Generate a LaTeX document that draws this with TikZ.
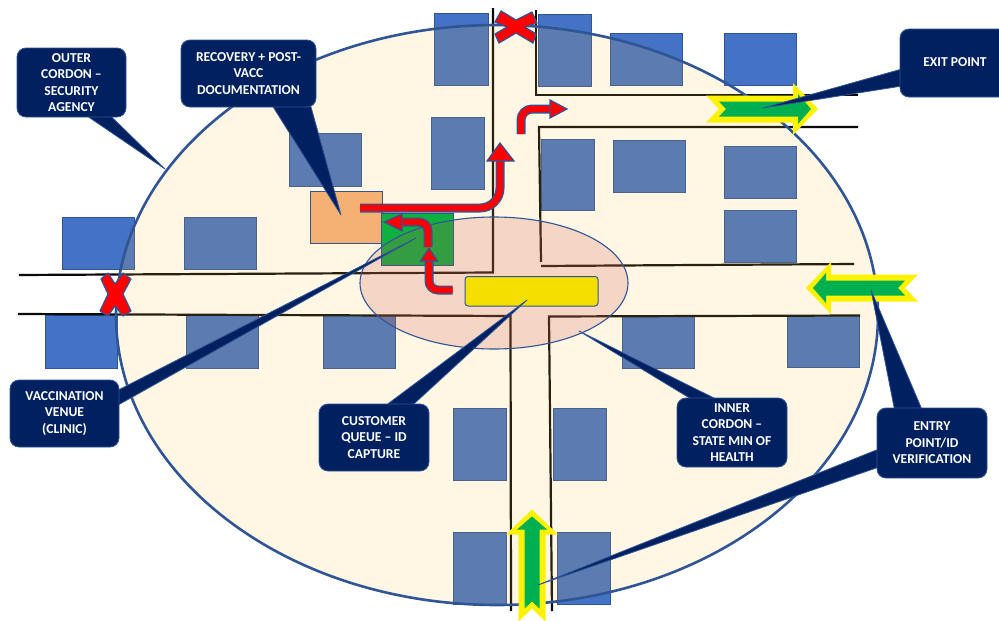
\documentclass[tikz,border=0pt]{standalone}
\usepackage{fontspec}
\setmainfont{Carlito}
\usetikzlibrary{calc}
\definecolor{navy}{HTML}{002060}
\definecolor{edgeb}{HTML}{2F5597}
\definecolor{blk}{HTML}{4472C4}
\definecolor{road}{HTML}{0A0A0A}
\definecolor{orangebox}{HTML}{F4B173}
\definecolor{greenbox}{HTML}{10B040}
\definecolor{outerfill}{HTML}{FFC132}
\definecolor{innerfill}{HTML}{CD5546}
\definecolor{queuebar}{HTML}{F5DF00}
\definecolor{arrowgreen}{HTML}{00B050}
\tikzset{
  blockbox/.style={fill=blk,draw=edgeb,line width=.6pt},
  roadline/.style={draw=road,line width=2.2pt,line join=miter},
  callout/.style={fill=navy,draw=edgeb,line width=.8pt,rounded corners=9pt,inner sep=0pt,outer sep=0pt,
    text=white,align=center,font=\bfseries\fontsize{13.6}{16.5}\selectfont},
  tailshape/.style={fill=navy,draw=edgeb,line width=.8pt,line join=round},
  redout/.style={draw=edgeb,line width=9pt,rounded corners=#1},
  redin/.style={draw=red,line width=6.4pt,rounded corners=#1},
  redhead/.style={fill=red,draw=edgeb,line width=1.2pt,line join=miter},
  redcross/.style={fill=red,draw=edgeb,line width=1.2pt,line join=round},
}
\newcommand{\bigarrow}[3]{%
  \begin{scope}[shift={(#1,#2)},rotate=#3]
    \fill[yellow] (-56,-13.5)--(31,-13.5)--(31,-26)--(56,0)--(31,26)--(31,13.5)--(-56,13.5)--(-43,0)--cycle;
    \fill[arrowgreen] (-43,-7.5)--(36,-7.5)--(36,-15)--(49,0)--(36,15)--(36,7.5)--(-43,7.5)--(-36,0)--cycle;
  \end{scope}}
\newcommand{\bentarrow}[2]{\draw[redout=#1] #2; \draw[redin=#1] #2;}
\begin{document}
\begin{tikzpicture}[x=1pt,y=-1pt]
\useasboundingbox (0,0) rectangle (999,621);
\clip (0,0) rectangle (999,621);
\fill[white] (0,0) rectangle (999,621);
% blocks
\foreach \a/\b/\c/\d in {434/13/488/85,538/14/591/86,610/33/682/85,724/33/796/85,431/117/484/189,541/139/594/210,613/140/685/192,724/146/796/198,724/210/796/262,289/133/361/186,62/217/134/269,184/217/256/269,45/315/117/368,186/315/258/368,323/315/395/368,622/315/694/368,787/315/859/367,453/408/506/480,553/408/606/480,453/532/506/604,557/532/610/604}
  \draw[blockbox] (\a,\b) rectangle (\c,\d);
% roads
\draw[roadline] (19,275)--(493,272.5)--(493,8);
\draw[roadline] (18,314)--(510.5,316)--(511,611);
\draw[roadline] (860,315.5)--(549,316.5)--(552,611);
\draw[roadline] (541,266)--(854,264);
\draw[roadline] (541,262)--(539,127)--(858,127);
\draw[roadline] (536,10)--(536,95)--(858,95);
% outer cordon
\fill[outerfill,fill opacity=.13] (497,315) ellipse [x radius=381,y radius=290];
\draw[edgeb,line width=2.6pt] (497,315) ellipse [x radius=381,y radius=290];
% venue boxes
\draw[fill=orangebox,draw=edgeb,line width=.5pt] (310,191) rectangle (382,243);
\draw[fill=greenbox,draw=edgeb,line width=.5pt] (381,213) rectangle (453,265);
% inner cordon
\fill[innerfill,fill opacity=.2] (494,283) ellipse [x radius=134,y radius=66];
\draw[edgeb,line width=1.1pt] (494,283) ellipse [x radius=134,y radius=66];
% queue bar
\draw[fill=queuebar,draw=edgeb,line width=1pt,rounded corners=3pt] (465,276.5) rectangle (598,306);
% red arrows
\bentarrow{20pt}{(360,208)--(500,208)--(500,160)}
\draw[redhead] (500,143)--(514,161)--(487,161)--cycle;
\bentarrow{9pt}{(428,247)--(428,222)--(401,222)}
\draw[redhead] (384,222)--(402,214)--(402,231)--cycle;
\bentarrow{9pt}{(452.5,290)--(429,290)--(429,260)}
\draw[redhead] (429,248)--(437.5,261)--(420.5,261)--cycle;
\bentarrow{11pt}{(521,134)--(521,109)--(551,109)}
\draw[redhead] (567,109)--(550,100)--(550,118)--cycle;
% crosses
\draw[redcross] (516,26) ++(-15,-15)--++(15,9)--++(16,-8)--++(5,11)--++(-12,4)--++(11,7)--++(-3,9)--++(-17,-10)--++(-17,10)--++(-4,-9)--++(12,-7)--++(-12,-5)--cycle;
\draw[redcross] (115,294) ++(-14,-15)--++(7,-6)--++(7,11)--++(8,-11)--++(8,6)--++(-8,15)--++(8,17)--++(-8,5)--++(-8,-10)--++(-7,10)--++(-8,-5)--++(8,-17)--cycle;
% green arrows
\bigarrow{762}{109}{0}
\bigarrow{862}{288}{180}
\bigarrow{532}{565.5}{90}
% callouts
\coordinate (tipouter) at (165,169);
\coordinate (tiprecov) at (341,215);
\coordinate (tipexit) at (763,108);
\coordinate (tipvacc) at (416,238);
\coordinate (tipqueue) at (527,300);
\coordinate (tipinner) at (579,331);
\coordinate (tipentrya) at (871,290);
\coordinate (tipentryb) at (538,585);
\coordinate (outer) at (71.5,82.5);
\coordinate (recov) at (248.5,73.5);
\coordinate (exitp) at (965,63);
\coordinate (vacc) at (64.5,413.5);
\coordinate (queue) at (374,437.5);
\coordinate (inner) at (732,432.5);
\coordinate (entry) at (932,443);
\draw[tailshape] ($(outer)+(10.5,30)$)--(tipouter)--($(outer)+(35.5,30)$)--cycle;
\draw[tailshape] ($(recov)+(22.5,30)$)--(tiprecov)--($(recov)+(61.5,30)$)--cycle;
\draw[tailshape] ($(exitp)+(-63,6)$)--(tipexit)--($(exitp)+(-63,23)$)--cycle;
\draw[tailshape] ($(vacc)+(50,-21.5)$)--(tipvacc)--($(vacc)+(50,-6.5)$)--cycle;
\draw[tailshape] ($(queue)+(9,-30)$)--(tipqueue)--($(queue)+(36,-30)$)--cycle;
\draw[tailshape] ($(inner)+(-35,-30)$)--(tipinner)--($(inner)+(-9,-30)$)--cycle;
\draw[tailshape] ($(entry)+(-37,-31)$)--(tipentrya)--($(entry)+(-9,-31)$)--cycle;
\draw[tailshape] ($(entry)+(-53,6)$)--(tipentryb)--($(entry)+(-53,24)$)--cycle;
\node[callout,minimum width=109pt,minimum height=69pt] (outerbox) at (outer) {OUTER\\CORDON –\\SECURITY\\AGENCY};
\node[callout,minimum width=135pt,minimum height=67pt] (recovbox) at (recov) {RECOVERY + POST-\\VACC\\DOCUMENTATION};
\node[callout,minimum width=130pt,minimum height=68pt] (exitbox) at (exitp) {};
\node[text=white,font=\bfseries\fontsize{13.6}{16.5}\selectfont] (exittext) at (955,62) {EXIT POINT};
\node[callout,minimum width=109pt,minimum height=67pt] (vaccbox) at (vacc) {VACCINATION\\VENUE\\(CLINIC)};
\node[callout,minimum width=110pt,minimum height=67pt] (queuebox) at (queue) {CUSTOMER\\QUEUE – ID\\CAPTURE};
\node[callout,minimum width=110pt,minimum height=69pt] (innerbox) at (inner) {INNER\\CORDON –\\STATE MIN OF\\HEALTH};
\node[callout,minimum width=110pt,minimum height=70pt] (entrybox) at (entry) {ENTRY\\POINT/ID\\VERIFICATION};
\end{tikzpicture}
\end{document}
